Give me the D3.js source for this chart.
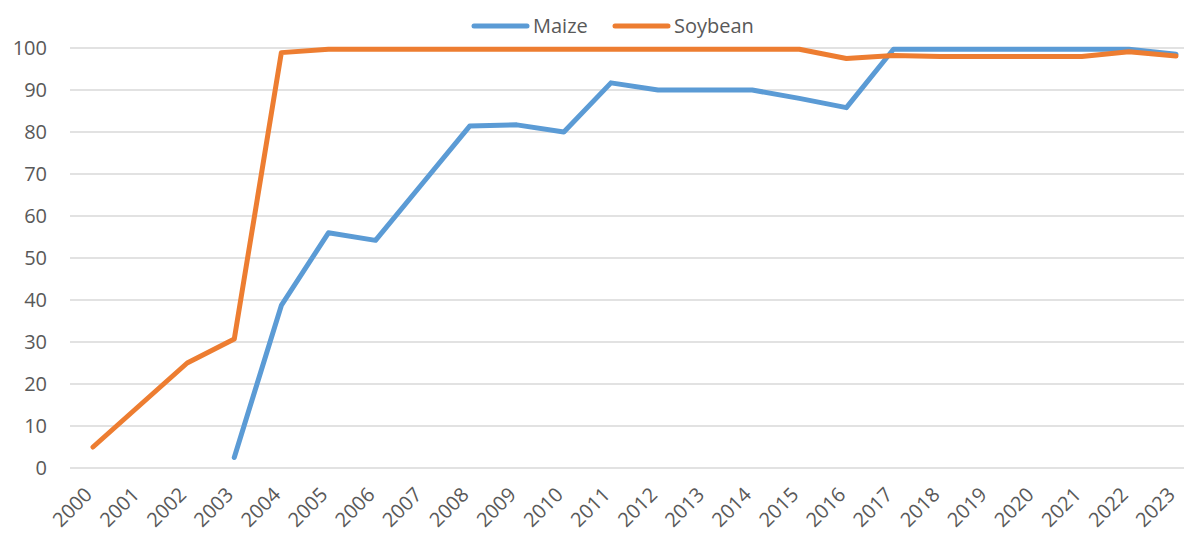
<!DOCTYPE html>
<html>
<head>
<meta charset="utf-8">
<script src="https://cdn.jsdelivr.net/npm/d3@7"></script>
<style>
  body { margin: 0; background: #fff; }
  text { font-family: "Open Sans", "Liberation Sans", sans-serif; fill: #595959; }
</style>
</head>
<body>
<div id="canvas"></div>
<script>
"use strict"

/* data */
let years = ["2000","2001","2002","2003","2004","2005","2006","2007","2008","2009","2010","2011",
             "2012","2013","2014","2015","2016","2017","2018","2019","2020","2021","2022","2023"];
let maize = [null, null, null, 2.5, 38.7, 56, 54.2, 67.8, 81.4, 81.7, 80, 91.7,
             90, 90, 90, 88, 85.8, 99.7, 99.7, 99.7, 99.7, 99.7, 99.7, 98.5];
let soybean = [5, 15, 25, 30.7, 98.9, 99.7, 99.7, 99.7, 99.7, 99.7, 99.7, 99.7,
               99.7, 99.7, 99.7, 99.7, 97.5, 98.2, 98, 98, 98, 98, 99.1, 98.1];
let yTicks = [0, 10, 20, 30, 40, 50, 60, 70, 80, 90, 100];

let W = 1184, H = 534;

let drawing = d3.select("#canvas")
    .append("svg")
    .attr("width", W)
    .attr("height", H);

let x = d3.scalePoint().domain(years).range([93, 1176]);
let y = d3.scaleLinear().domain([0, 100]).range([468, 48]);

/* gridlines */
drawing.append("g")
  .selectAll("line")
  .data(yTicks)
  .join("line")
  .attr("x1", 70).attr("x2", 1184)
  .attr("y1", d => y(d)).attr("y2", d => y(d))
  .attr("stroke", "#d9d9d9")
  .attr("stroke-width", 1.5);

/* y axis labels */
let yAxis = drawing.append("g")
  .attr("transform", "translate(47,0)")
  .call(d3.axisLeft(y).tickValues(yTicks).tickSize(0).tickPadding(0));
yAxis.select(".domain").remove();
yAxis.selectAll("text")
  .style("font-size", "20px")
  .style("font-family", "'Open Sans', sans-serif")
  .attr("fill", "#595959");

/* x axis labels, rotated like the reference */
let xAxis = drawing.append("g")
  .attr("transform", "translate(0,478)")
  .call(d3.axisBottom(x).tickSize(0).tickPadding(0));
xAxis.select(".domain").remove();
xAxis.selectAll("text")
  .style("font-size", "20px")
  .style("font-family", "'Open Sans', sans-serif")
  .attr("fill", "#595959")
  .attr("text-anchor", "end")
  .attr("dy", "0.35em")
  .attr("transform", "translate(-5,13) rotate(-45)");

/* lines */
let lineGen = d3.line()
  .defined(d => d.v !== null)
  .x(d => x(d.year))
  .y(d => y(d.v));

let series = [
  { name: "Maize", values: maize, color: "#5b9bd5" },
  { name: "Soybean", values: soybean, color: "#ed7d31" }
];

series.forEach(s => {
  drawing.append("path")
    .datum(years.map((yr, i) => ({ year: yr, v: s.values[i] })))
    .attr("d", lineGen)
    .attr("fill", "none")
    .attr("stroke", s.color)
    .attr("stroke-width", 5)
    .attr("stroke-linejoin", "round")
    .attr("stroke-linecap", "round");
});

/* legend */
let legendX = [474, 615];
series.forEach((s, i) => {
  drawing.append("line")
    .attr("x1", legendX[i]).attr("x2", legendX[i] + 53)
    .attr("y1", 26).attr("y2", 26)
    .attr("stroke", s.color)
    .attr("stroke-width", 5)
    .attr("stroke-linecap", "round");
  drawing.append("text")
    .attr("x", legendX[i] + 59).attr("y", 26)
    .attr("dy", "0.35em")
    .style("font-size", "20px")
    .text(s.name);
});
</script>
</body>
</html>
